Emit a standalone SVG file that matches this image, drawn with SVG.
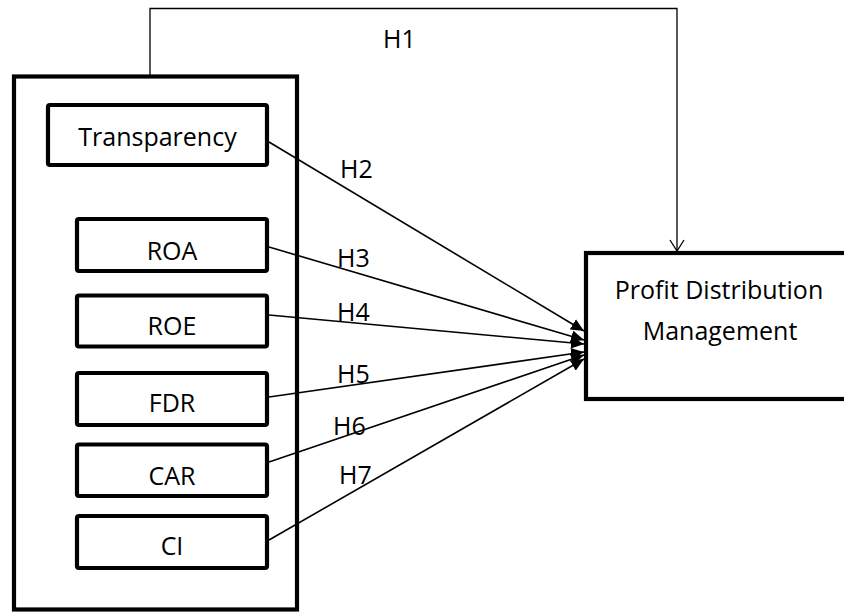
<svg xmlns="http://www.w3.org/2000/svg" width="844" height="612" viewBox="0 0 844 612">
<style>
.box{fill:#fff;stroke:#000;stroke-width:4.2;}
.lbl{font-family:"Open Sans","Liberation Sans",sans-serif;font-size:25px;fill:#000;text-anchor:middle;}
.hl{font-family:"Open Sans","Liberation Sans",sans-serif;font-size:25px;fill:#000;}
.con{fill:none;stroke:#000;stroke-width:1.6;}
</style>
<defs>
<marker id="tri" markerUnits="userSpaceOnUse" markerWidth="14" markerHeight="12" refX="13" refY="6" orient="auto">
<path d="M0,0 L13,6 L0,12 Z" fill="#000"/>
</marker>
<marker id="vee" markerUnits="userSpaceOnUse" markerWidth="16" markerHeight="16" refX="12" refY="8" orient="auto">
<path d="M1,1 L12,8 L1,15" fill="none" stroke="#000" stroke-width="1.3"/>
</marker>
</defs>
<rect width="844" height="612" fill="#fff"/>
<g id="outer"><rect class="box" x="14" y="76.5" width="283" height="533"/></g>
<g id="transparency"><rect class="box" x="48" y="105" width="219" height="60" rx="2"/><text class="lbl" x="157.5" y="146">Transparency</text></g>
<g id="roa"><rect class="box" x="77" y="219" width="190" height="52" rx="2"/><text class="lbl" x="172" y="260">ROA</text></g>
<g id="roe"><rect class="box" x="77" y="295.5" width="190" height="51" rx="2"/><text class="lbl" x="172" y="335">ROE</text></g>
<g id="fdr"><rect class="box" x="77" y="373" width="190" height="52" rx="2"/><text class="lbl" x="172" y="412">FDR</text></g>
<g id="car"><rect class="box" x="77" y="444.5" width="190" height="51.5" rx="2"/><text class="lbl" x="172" y="485">CAR</text></g>
<g id="ci"><rect class="box" x="77" y="516" width="190" height="52" rx="2"/><text class="lbl" x="172" y="555">CI</text></g>
<g id="pdm"><rect class="box" x="586" y="253" width="270" height="146"/><text class="lbl" x="719" y="299">Profit Distribution</text><text class="lbl" x="720" y="340">Management</text></g>
<g id="connectors">
<path d="M150,76 V8.5 H677 V251" fill="none" stroke="#000" stroke-width="1.3" marker-end="url(#vee)"/>
<line class="con" x1="269" y1="142" x2="584" y2="331" marker-end="url(#tri)"/>
<line class="con" x1="269" y1="247" x2="584" y2="340" marker-end="url(#tri)"/>
<line class="con" x1="269" y1="315" x2="584" y2="344" marker-end="url(#tri)"/>
<line class="con" x1="269" y1="397" x2="584" y2="352" marker-end="url(#tri)"/>
<line class="con" x1="269" y1="462" x2="584" y2="355" marker-end="url(#tri)"/>
<line class="con" x1="269" y1="540" x2="584" y2="359" marker-end="url(#tri)"/>
<text class="hl" x="383" y="48">H1</text>
<text class="hl" x="340" y="178">H2</text>
<text class="hl" x="337" y="267">H3</text>
<text class="hl" x="337" y="321">H4</text>
<text class="hl" x="337" y="383">H5</text>
<text class="hl" x="333" y="435">H6</text>
<text class="hl" x="339" y="484">H7</text>
</g>
</svg>
